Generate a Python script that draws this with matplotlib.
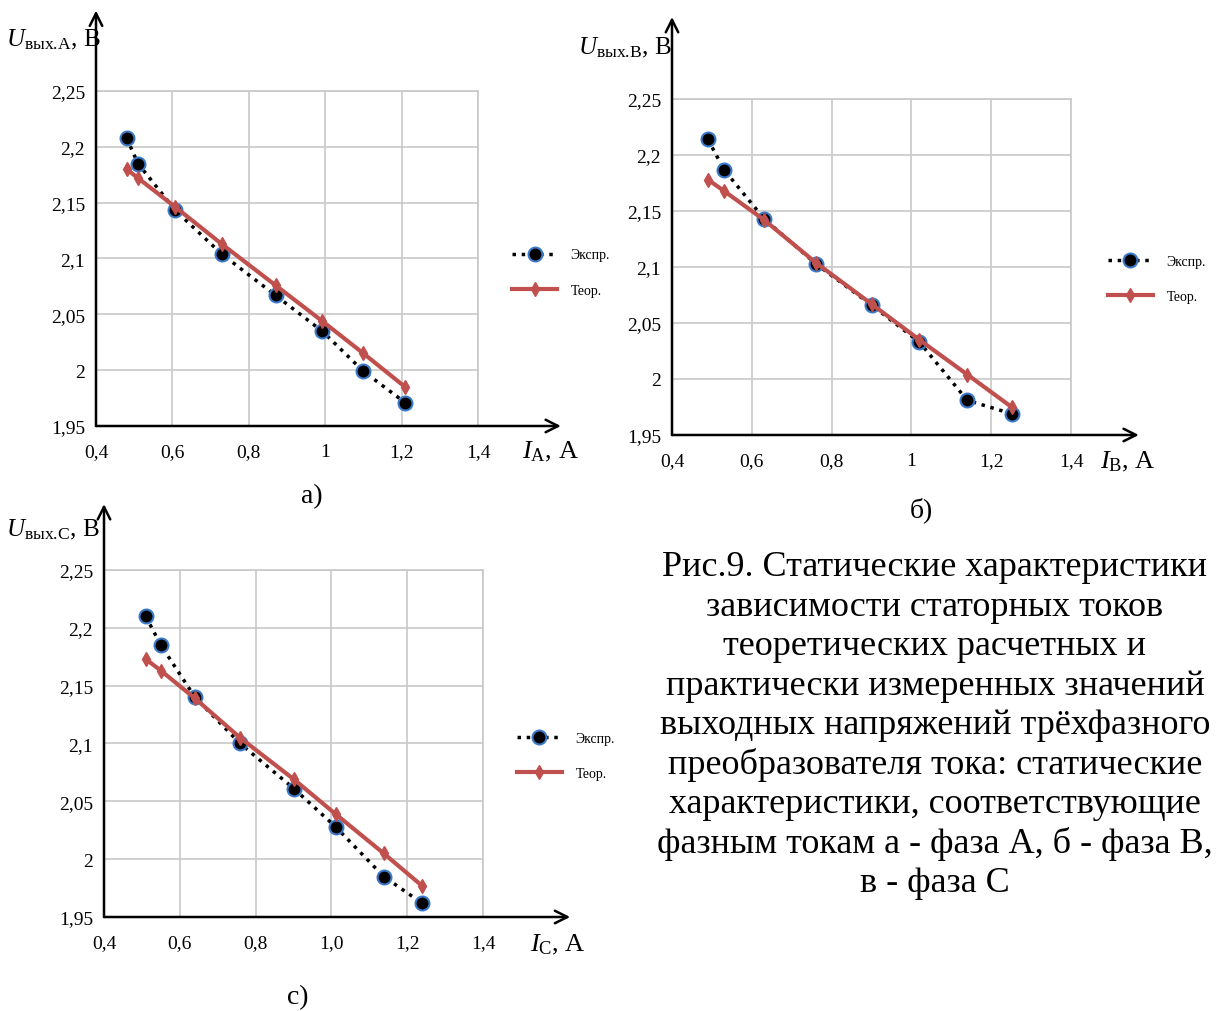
import matplotlib
matplotlib.use("Agg")
import matplotlib.pyplot as plt

plt.rcParams['font.family'] = ['Liberation Serif', 'DejaVu Serif']
plt.rcParams['mathtext.fontset'] = 'custom'
plt.rcParams['mathtext.rm'] = 'Liberation Serif'
plt.rcParams['mathtext.it'] = 'Liberation Serif:italic'

W, H = 1221, 1012

# phase A
ia = [0.48, 0.51, 0.608, 0.729, 0.87, 0.992, 1.10, 1.209]
ua_exp = [2.208, 2.185, 2.143, 2.104, 2.067, 2.035, 1.999, 1.971]
ua_teor = [2.180, 2.172, 2.146, 2.113, 2.076, 2.044, 2.015, 1.985]
# phase B
ib = [0.49, 0.53, 0.631, 0.76, 0.90, 1.02, 1.14, 1.251]
ub_exp = [2.214, 2.187, 2.143, 2.103, 2.066, 2.033, 1.981, 1.969]
ub_teor = [2.178, 2.168, 2.142, 2.104, 2.067, 2.035, 2.004, 1.975]
# phase C
ic = [0.51, 0.55, 0.64, 0.759, 0.901, 1.011, 1.138, 1.239]
uc_exp = [2.210, 2.185, 2.140, 2.100, 2.061, 2.028, 1.985, 1.962]
uc_teor = [2.173, 2.163, 2.139, 2.105, 2.069, 2.039, 2.005, 1.977]

yticks = [1.95, 2.0, 2.05, 2.1, 2.15, 2.2, 2.25]
ytick_labels = ['1,95', '2', '2,05', '2,1', '2,15', '2,2', '2,25']
xticks = [0.4, 0.6, 0.8, 1.0, 1.2, 1.4]
xtick_labels_ab = ['0,4', '0,6', '0,8', '1', '1,2', '1,4']
xtick_labels_c = ['0,4', '0,6', '0,8', '1,0', '1,2', '1,4']

caption = [
    "Рис.9. Статические характеристики",
    "зависимости статорных токов",
    "теоретических расчетных и",
    "практически измеренных значений",
    "выходных напряжений трёхфазного",
    "преобразователя тока: статические",
    "характеристики, соответствующие",
    "фазным токам а - фаза А, б - фаза В,",
    "в - фаза С",
]

fig = plt.figure(figsize=(W / 100, H / 100), dpi=100)


def panel(box, x, u_exp, u_teor, xlabels, phase, arrows, leg_xy, ylab_xy, xlab_xy):
    l, t, r, b = box
    ax = fig.add_axes([l / W, 1 - b / H, (r - l) / W, (b - t) / H])
    ax.set_xlim(0.4, 1.4)
    ax.set_ylim(1.95, 2.25)
    ax.set_xticks(xticks, xlabels)
    ax.set_yticks(yticks, ytick_labels)
    ax.tick_params(length=0, labelsize=14)
    ax.tick_params(axis='x', pad=12)
    ax.tick_params(axis='y', pad=8)
    ax.grid(True, color='#c8c8c8', lw=1.2)
    ax.set_axisbelow(True)
    for s in ['left', 'bottom']:
        ax.spines[s].set_visible(False)
    for s in ['top', 'right']:
        ax.spines[s].set_color('#c8c8c8')
        ax.spines[s].set_linewidth(1.2)

    ax.plot(x, u_exp, ls=':', color='black', lw=2.5, marker='o', ms=10,
            mfc='black', mec='#3a78c8', mew=1.5, label='Экспр.', zorder=3)
    ax.plot(x, u_teor, color='#c0504d', lw=3, marker='d', ms=7,
            label='Теор.', zorder=4)

    # axes with arrows
    arr = dict(arrowstyle='->,head_length=0.9,head_width=0.45', lw=1.8,
               color='black', shrinkA=0, shrinkB=0)
    ax.annotate('', xy=(arrows[0], 0), xytext=(0, 0), xycoords='axes fraction',
                arrowprops=arr, annotation_clip=False)
    ax.annotate('', xy=(0, arrows[1]), xytext=(0, 0), xycoords='axes fraction',
                arrowprops=arr, annotation_clip=False)

    ax.text(ylab_xy[0], ylab_xy[1],
            r'$U_{\mathrm{вых.}\!\mathrm{' + phase + r'}}$, В',
            transform=ax.transAxes, ha='right', va='center', fontsize=18)
    ax.text(xlab_xy[0], xlab_xy[1], r'$I_{\mathrm{' + phase + r'}}$, А',
            transform=ax.transAxes, ha='left', va='center', fontsize=19)

    ax.legend(loc='center left', bbox_to_anchor=leg_xy, frameon=False,
              fontsize=10, handlelength=3.2, handletextpad=1.0,
              labelspacing=1.6, borderpad=0, borderaxespad=0)
    return ax


panel((96, 92, 478, 427), ia, ua_exp, ua_teor, xtick_labels_ab, 'A',
      (1.217, 1.24), (1.09, 0.458), (0.012, 1.155), (1.115, -0.075))
panel((672, 100, 1071, 436), ib, ub_exp, ub_teor, xtick_labels_ab, 'B',
      (1.17, 1.244), (1.093, 0.464), (0.0, 1.155), (1.073, -0.077))
panel((104, 571, 483, 918), ic, uc_exp, uc_teor, xtick_labels_c, 'C',
      (1.23, 1.19), (1.09, 0.464), (-0.01, 1.118), (1.124, -0.078))

fig.text(312 / W, 1 - 497 / H, 'а)', ha='center', va='center', fontsize=20)
fig.text(921 / W, 1 - 510 / H, 'б)', ha='center', va='center', fontsize=20)
fig.text(298 / W, 1 - 998 / H, 'с)', ha='center', va='center', fontsize=20)

for i, line in enumerate(caption):
    fig.text(935 / W, 1 - (568 + i * 39.4) / H, line, ha='center', va='center',
             fontsize=26)

fig.savefig('out.png', dpi=100)
